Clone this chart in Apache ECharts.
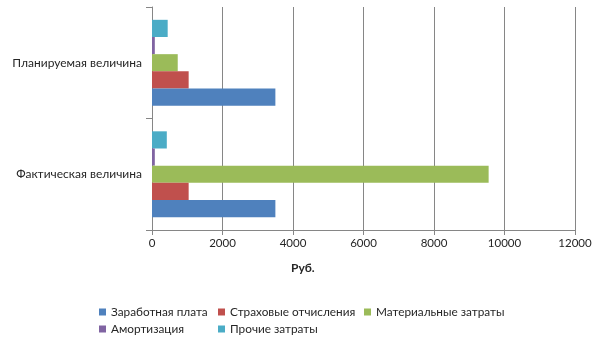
<!DOCTYPE html>
<html><head><meta charset="utf-8">
<script src="https://cdn.jsdelivr.net/npm/echarts@6/dist/echarts.min.js"></script>
<style>html,body{margin:0;padding:0;background:#fff}#c{width:605px;height:340px}</style>
</head><body><div id="c"></div>
<script>
const categories = ['Фактическая величина', 'Планируемая величина'];
const seriesNames = ['Заработная плата', 'Страховые отчисления', 'Материальные затраты', 'Амортизация', 'Прочие затраты'];
const salary = [3500, 3500];
const insurance = [1040, 1040];
const materials = [9550, 730];
const amortization = [80, 80];
const other = [420, 445];
const xTicks = {min: 0, max: 12000, interval: 2000};
const axisName = 'Руб.';

const colors = ['#4F81BD', '#C0504D', '#9BBB59', '#8064A2', '#4BACC6'];
const values = [salary, insurance, materials, amortization, other];
const font = 'Lato, "Open Sans", sans-serif';
const gray = '#868686';
const legendPos = [[99, 306], [218, 306], [364, 306], [99, 323], [218, 323]];

const chart = echarts.init(document.getElementById('c'), null, {renderer: 'canvas'});
const legends = seriesNames.map((n, i) => ({
  left: legendPos[i][0], top: legendPos[i][1], data: [n],
  itemWidth: 7, itemHeight: 7, icon: 'rect', selectedMode: false, padding: 0,
  textStyle: {fontFamily: font, fontSize: 11.8, color: '#262626'}
}));
const series = [];
for (let i = seriesNames.length - 1; i >= 0; i--) {
  series.push({name: seriesNames[i], type: 'bar', data: values[i], itemStyle: {color: colors[i]},
    barGap: '0%', barCategoryGap: '23%'});
}
chart.setOption({
  animation: false,
  grid: {left: 152, right: 30, top: 7, bottom: 110},
  xAxis: {
    type: 'value', min: xTicks.min, max: xTicks.max, interval: xTicks.interval,
    axisLine: {show: true, lineStyle: {color: gray}},
    axisTick: {show: true, length: 5, lineStyle: {color: gray}},
    splitLine: {show: true, lineStyle: {color: gray}},
    axisLabel: {fontFamily: font, fontSize: 11.5, color: '#262626', margin: 7, formatter: v => String(v)}
  },
  yAxis: {
    type: 'category', data: categories,
    axisLine: {show: true, lineStyle: {color: gray}},
    axisTick: {show: true, length: 6, lineStyle: {color: gray}},
    axisLabel: {fontFamily: font, fontSize: 12, color: '#262626', margin: 10}
  },
  legend: legends,
  graphic: [{type: 'text', left: 291, top: 262, style: {text: axisName, font: 'bold 12px ' + font, fill: '#262626'}}],
  series: series
});
</script></body></html>
